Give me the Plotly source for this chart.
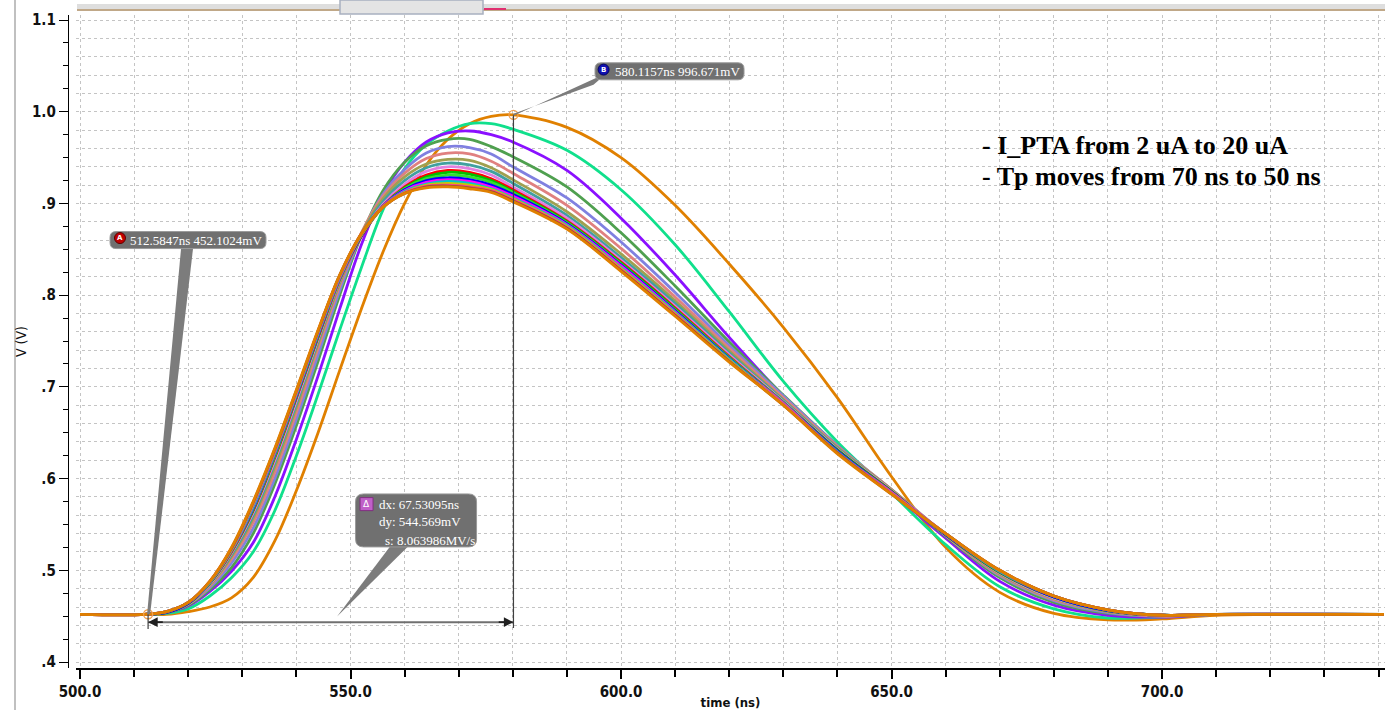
import plotly.graph_objects as go

# ---------------- data ----------------
T_NS = [500, 512, 516, 520, 524, 528, 532, 536, 540, 544, 548, 552, 556, 560, 564, 568, 572, 576, 580,
        590, 600, 610, 620, 630, 640, 650, 660, 670, 680, 690, 700, 710, 741]

I_PTA_UA = [2, 3, 4, 5, 6, 7, 8, 9, 10, 11, 12, 13, 14, 15, 16, 17, 18, 19, 20]

V_02 = [.452, .452, .452, .455, .460, .470, .492, .532, .587, .650, .718, .785, .847, .900, .942, .970, .987, .995, .9967,
        .983, .950, .898, .834, .765, .688, .602, .525, .476, .453, .446, .447, .451, .452]
V_03 = [.452, .452, .453, .458, .472, .492, .520, .565, .625, .692, .762, .830, .893, .938, .964, .979, .987, .987, .981,
        .958, .915, .855, .782, .706, .640, .584, .528, .482, .458, .448, .449, .452, .452]
V_04 = [.452, .452, .454, .461, .477, .499, .530, .580, .643, .712, .785, .855, .910, .945, .967, .977, .979, .975, .967,
        .936, .884, .822, .754, .690, .633, .585, .535, .488, .462, .451, .449, .452, .452]
V_05 = [.452, .452, .454, .462, .479, .503, .540, .594, .658, .728, .800, .865, .914, .945, .963, .970, .970, .962, .951,
        .918, .868, .810, .749, .691, .636, .587, .537, .492, .465, .453, .450, .452, .452]
V_06 = [.452, .452, .454, .463, .481, .508, .546, .600, .665, .735, .805, .866, .910, .937, .955, .962, .961, .954, .940,
        .906, .858, .803, .745, .690, .636, .588, .538, .494, .467, .454, .450, .452, .452]
V_07 = [.452, .452, .454, .463, .483, .512, .552, .607, .672, .742, .810, .868, .908, .933, .949, .955, .954, .946, .933,
        .898, .851, .798, .742, .688, .635, .588, .538, .495, .468, .455, .450, .452, .452]
V_08 = [.452, .452, .454, .464, .484, .515, .557, .613, .678, .747, .813, .867, .905, .929, .943, .948, .947, .939, .926,
        .891, .845, .794, .739, .686, .634, .588, .539, .496, .469, .455, .451, .452, .452]
V_09 = [.452, .452, .454, .464, .485, .517, .560, .617, .682, .750, .815, .866, .902, .925, .939, .944, .942, .935, .922,
        .887, .841, .791, .737, .685, .633, .587, .539, .497, .470, .456, .451, .452, .452]
V_10 = [.452, .452, .454, .464, .485, .519, .563, .620, .685, .752, .816, .865, .899, .921, .935, .940, .938, .931, .918,
        .884, .838, .788, .735, .684, .632, .587, .539, .497, .470, .456, .451, .452, .452]
V_11 = [.452, .452, .454, .464, .486, .520, .565, .623, .688, .754, .817, .864, .897, .918, .931, .936, .934, .927, .915,
        .881, .836, .786, .733, .683, .631, .586, .539, .498, .471, .456, .451, .452, .452]
V_12 = [.452, .452, .454, .464, .486, .521, .566, .624, .689, .755, .818, .865, .897, .917, .929, .934, .932, .925, .913,
        .880, .835, .785, .732, .683, .631, .586, .539, .498, .471, .456, .451, .452, .452]
V_13 = [.452, .452, .454, .464, .487, .521, .567, .625, .690, .756, .818, .865, .897, .916, .927, .931, .929, .923, .912,
        .879, .834, .784, .732, .683, .630, .585, .539, .499, .471, .456, .451, .452, .452]
V_14 = [.452, .452, .454, .464, .487, .522, .568, .627, .691, .757, .819, .865, .897, .915, .925, .928, .926, .920, .910,
        .878, .833, .783, .731, .682, .630, .585, .539, .499, .471, .456, .451, .452, .452]
V_15 = [.452, .452, .455, .465, .487, .522, .569, .628, .692, .758, .819, .866, .897, .914, .923, .926, .924, .918, .908,
        .877, .832, .782, .730, .682, .629, .585, .540, .499, .472, .457, .451, .452, .452]
V_16 = [.452, .452, .455, .465, .487, .523, .570, .629, .693, .759, .820, .866, .896, .913, .921, .924, .922, .916, .906,
        .876, .830, .781, .730, .681, .629, .584, .540, .499, .472, .457, .451, .452, .452]
V_17 = [.452, .452, .455, .465, .488, .523, .572, .630, .694, .760, .821, .866, .896, .912, .920, .922, .920, .915, .905,
        .875, .829, .780, .729, .681, .628, .584, .540, .500, .472, .457, .451, .452, .452]
V_18 = [.452, .452, .455, .465, .488, .524, .573, .631, .695, .761, .821, .867, .896, .912, .919, .920, .918, .914, .904,
        .874, .828, .779, .728, .681, .628, .584, .540, .500, .472, .457, .451, .452, .452]
V_19 = [.452, .452, .455, .465, .488, .524, .574, .632, .696, .761, .822, .867, .896, .911, .918, .919, .917, .913, .903,
        .873, .827, .778, .728, .680, .628, .583, .540, .500, .472, .457, .451, .452, .452]
V_20 = [.452, .452, .455, .465, .488, .525, .575, .633, .697, .762, .822, .867, .896, .911, .917, .918, .916, .912, .902,
        .872, .826, .777, .727, .680, .627, .583, .540, .500, .472, .457, .451, .452, .452]

SERIES = [V_02, V_03, V_04, V_05, V_06, V_07, V_08, V_09, V_10, V_11,
          V_12, V_13, V_14, V_15, V_16, V_17, V_18, V_19, V_20]

COLORS = ["#E08000", "#10E08C", "#8A10FF", "#4FA04F", "#8080E0", "#E08080", "#A0A050", "#40A0A0", "#E080E0",
          "#FF0000", "#00C000", "#30E030", "#0000FF", "#FF00FF", "#00C8C8", "#C8C800", "#FF4090", "#A0522D",
          "#E08000"]

# cursor markers
A_T, A_V = 512.5847, 0.4521024
B_T, B_V = 580.1157, 0.996671
DX_NS, DY_MV, SLOPE = 67.53095, 544.569, 8.063986

Y_TICKS = [0.4, 0.5, 0.6, 0.7, 0.8, 0.9, 1.0, 1.1]
Y_TICKTEXT = [".4", ".5", ".6", ".7", ".8", ".9", "1.0", "1.1"]
X_TICKS = [500, 550, 600, 650, 700]
X_TICKTEXT = ["500.0", "550.0", "600.0", "650.0", "700.0"]

# ---------------- layout constants ----------------
X_RANGE = [499.26, 741.2]
Y_RANGE = [0.3935, 1.1055]
GRID = "#c4c4c4"
BOX = "#707070"
WEDGE = "#7c7c7c"
LBL_FONT = "Liberation Serif, DejaVu Serif, serif"
AX_FONT = "Liberation Sans Narrow, DejaVu Sans Condensed, Liberation Sans, sans-serif"
W_PLOT = 1317.0
H_PLOT = 653.0

fig = go.Figure()
for vals, col, ia in zip(SERIES, COLORS, I_PTA_UA):
    fig.add_trace(go.Scatter(x=T_NS, y=vals, mode="lines", name=f"{ia} uA",
                             line=dict(color=col, width=2.8, shape="spline", smoothing=1.0),
                             hoverinfo="skip"))

# cursor points (on the overlay axis that carries the fine grid)
fig.add_trace(go.Scatter(x=[A_T, B_T], y=[A_V, B_V], mode="markers", yaxis="y2",
                         marker=dict(symbol="circle-open", size=9, color="#F0A050", line=dict(width=1.3)),
                         hoverinfo="skip"))


def rrect(w, h, r):
    x0, x1, y0, y1 = -w / 2, w / 2, -h / 2, h / 2
    return (f"M {x0 + r},{y0} L {x1 - r},{y0} Q {x1},{y0} {x1},{y0 + r} L {x1},{y1 - r} "
            f"Q {x1},{y1} {x1 - r},{y1} L {x0 + r},{y1} Q {x0},{y1} {x0},{y1 - r} "
            f"L {x0},{y0 + r} Q {x0},{y0} {x0 + r},{y0} Z")


def pix_shape(xa, ya, path, fill, line_color=None, lw=0):
    return dict(type="path", xref="x", yref="y", xsizemode="pixel", ysizemode="pixel",
                xanchor=xa, yanchor=ya, path=path, fillcolor=fill,
                line=dict(color=line_color or fill, width=lw), layer="above")


shapes = []
DIM_V = 0.4435
shapes.append(dict(type="line", xref="x", yref="y", x0=A_T, x1=B_T, y0=DIM_V, y1=DIM_V,
                   line=dict(color="#707070", width=2)))
shapes.append(dict(type="line", xref="x", yref="y", x0=B_T, x1=B_T, y0=B_V, y1=0.437,
                   line=dict(color="#404040", width=1.2)))
shapes.append(dict(type="line", xref="x", yref="y", x0=A_T, x1=A_T, y0=A_V, y1=0.436,
                   line=dict(color="#404040", width=1.2)))

# A label
A_BOX = (519.96, 0.8601)
shapes.append(pix_shape(A_T, A_V, "M -1,0 L 33,366 L 45,366 L 2,0 Z", WEDGE))
shapes.append(pix_shape(A_BOX[0], A_BOX[1], rrect(156, 17, 6), BOX, "#9a9a9a", 1))
shapes.append(dict(type="circle", xref="x", yref="y", xsizemode="pixel", ysizemode="pixel",
                   xanchor=507.39, yanchor=0.8623, x0=-5.5, x1=5.5, y0=-5.5, y1=5.5,
                   fillcolor="#C00000", line=dict(color="#600000", width=1)))
# B label
B_BOX = (608.96, 1.0441)
shapes.append(pix_shape(B_T, B_V, "M 0,1 L 80,30 L 94,42 L 0,-1 Z", WEDGE))
shapes.append(pix_shape(B_BOX[0], B_BOX[1], rrect(149, 17, 6), BOX, "#9a9a9a", 1))
shapes.append(dict(type="circle", xref="x", yref="y", xsizemode="pixel", ysizemode="pixel",
                   xanchor=596.77, yanchor=1.046, x0=-5.5, x1=5.5, y0=-5.5, y1=5.5,
                   fillcolor="#1010B0", line=dict(color="#000060", width=1)))
# delta label
D_BOX = (562.11, 0.5544)
shapes.append(pix_shape(D_BOX[0], D_BOX[1], "M -79,-96 L -26,-26 L -8,-26 Z", WEDGE))
shapes.append(pix_shape(D_BOX[0], D_BOX[1], rrect(121, 53, 8), BOX, "#9a9a9a", 1))
shapes.append(dict(type="rect", xref="x", yref="y", xsizemode="pixel", ysizemode="pixel",
                   xanchor=552.96, yanchor=0.5722, x0=-6.5, x1=6.5, y0=-6.5, y1=6.5,
                   fillcolor="#C060C8", line=dict(color="#803080", width=1)))


# window decoration
def px(x):
    return (x - 68) / W_PLOT


def py(y):
    return (668 - y) / H_PLOT


shapes.append(dict(type="line", xref="paper", yref="paper", x0=px(15), x1=px(15), y0=py(0), y1=py(710),
                   line=dict(color="#c0c0c0", width=2), layer="below"))
shapes.append(dict(type="rect", xref="paper", yref="paper", x0=px(77), x1=px(1385), y0=py(11), y1=py(4),
                   fillcolor="#dedede", line=dict(width=0)))
shapes.append(dict(type="line", xref="paper", yref="paper", x0=px(77), x1=px(1385), y0=py(10), y1=py(10),
                   line=dict(color="#c0a888", width=2)))
shapes.append(dict(type="rect", xref="paper", yref="paper", x0=px(340), x1=px(483), y0=py(14), y1=py(0),
                   fillcolor="#e4e4e4", line=dict(color="#a8b0c0", width=1.5)))
shapes.append(dict(type="line", xref="paper", yref="paper", x0=px(484), x1=px(506), y0=py(9), y1=py(9),
                   line=dict(color="#e03070", width=2)))

ann = []
ann.append(dict(x=508.87, y=0.8601, xref="x", yref="y", text=f"{A_T:.4f}ns {A_V*1000:.4f}mV",
                showarrow=False, xanchor="left", yanchor="middle",
                font=dict(family=LBL_FONT, size=13, color="white")))
ann.append(dict(x=507.39, y=0.8623, xref="x", yref="y", text="<b>A</b>", showarrow=False,
                font=dict(family="DejaVu Sans", size=7, color="white")))
ann.append(dict(x=598.52, y=1.0444, xref="x", yref="y", text=f"{B_T:.4f}ns {B_V*1000:.3f}mV",
                showarrow=False, xanchor="left", yanchor="middle",
                font=dict(family=LBL_FONT, size=13, color="white")))
ann.append(dict(x=596.77, y=1.046, xref="x", yref="y", text="<b>B</b>", showarrow=False,
                font=dict(family="DejaVu Sans", size=7, color="white")))
ann.append(dict(x=552.96, y=0.5722, xref="x", yref="y", text="Δ", showarrow=False,
                font=dict(family="DejaVu Sans", size=9, color="white")))
ann.append(dict(x=554.9, y=0.5722, xref="x", yref="y", text=f"dx: {DX_NS:.5f}ns", showarrow=False,
                xanchor="left", yanchor="middle", font=dict(family=LBL_FONT, size=13, color="white")))
ann.append(dict(x=554.9, y=0.5529, xref="x", yref="y", text=f"dy: {DY_MV:.3f}mV", showarrow=False,
                xanchor="left", yanchor="middle", font=dict(family=LBL_FONT, size=13, color="white")))
ann.append(dict(x=556.0, y=0.5329, xref="x", yref="y", text=f"s: {SLOPE:.6f}MV/s", showarrow=False,
                xanchor="left", yanchor="middle", font=dict(family=LBL_FONT, size=13, color="white")))
ann.append(dict(x=A_T, y=DIM_V, ax=A_T + 3, ay=DIM_V, xref="x", yref="y", axref="x", ayref="y",
                text="", showarrow=True, arrowhead=2, arrowsize=1.2, arrowwidth=1.6, arrowcolor="#202020",
                standoff=0))
ann.append(dict(x=B_T, y=DIM_V, ax=B_T - 3, ay=DIM_V, xref="x", yref="y", axref="x", ayref="y",
                text="", showarrow=True, arrowhead=2, arrowsize=1.2, arrowwidth=1.6, arrowcolor="#202020",
                standoff=0))
ann.append(dict(x=666.36, y=0.9637, xref="x", yref="y", text="<b>- I_PTA from 2 uA to 20 uA</b>",
                showarrow=False, xanchor="left", yanchor="middle",
                font=dict(family="Liberation Serif, serif", size=26, color="black")))
ann.append(dict(x=666.36, y=0.9299, xref="x", yref="y", text="<b>- Tp moves from 70 ns to 50 ns</b>",
                showarrow=False, xanchor="left", yanchor="middle",
                font=dict(family="Liberation Serif, serif", size=26, color="black")))

fig.update_layout(
    width=1392, height=710,
    margin=dict(l=68, r=7, t=15, b=42, autoexpand=False),
    paper_bgcolor="white", plot_bgcolor="white",
    showlegend=False,
    shapes=shapes,
    annotations=ann,
    xaxis=dict(domain=[8 / W_PLOT, 1], range=X_RANGE, anchor="y2", automargin=False,
               tickvals=X_TICKS, ticktext=X_TICKTEXT, ticks="outside", ticklen=9, tickwidth=1.5,
               tickcolor="black", showline=True, linewidth=2, linecolor="black",
               showgrid=True, gridcolor=GRID, griddash="dot", gridwidth=1, zeroline=False,
               minor=dict(dtick=10, tick0=500, ticks="outside", ticklen=7, tickwidth=1.5, tickcolor="black",
                          showgrid=True, gridcolor=GRID, griddash="dot", gridwidth=1),
               tickfont=dict(family=AX_FONT, size=15, color="#111", weight="bold"),
               title=dict(text="<b>time (ns)</b>", standoff=2,
                          font=dict(family=AX_FONT, size=13, color="#111"))),
    yaxis=dict(domain=[0, 1], range=Y_RANGE, anchor="free", position=0, side="left", automargin=False,
               tickvals=Y_TICKS, ticktext=Y_TICKTEXT, ticks="outside", ticklen=9, tickwidth=1.3,
               tickcolor="black", showline=True, linewidth=1.3, linecolor="black",
               showgrid=False, zeroline=False,
               minor=dict(dtick=0.025, tick0=0.4, ticks="outside", ticklen=5, tickwidth=1.3,
                          tickcolor="black", showgrid=False),
               tickfont=dict(family=AX_FONT, size=15, color="#111", weight="bold"),
               title=dict(text="V (V)", standoff=1, font=dict(family=AX_FONT, size=14, color="#111"))),
    yaxis2=dict(overlaying="y", anchor="x", side="right", range=Y_RANGE, automargin=False,
                showticklabels=False, ticks="", showline=False, zeroline=False,
                showgrid=True, dtick=0.02, tick0=0.4, gridcolor=GRID, griddash="dot", gridwidth=1),
)

# remove the browser's default 8px page margin so the figure sits at the window origin
fig.write_html("out.html", config={"displayModeBar": False},
               post_script="document.body.style.margin='0px';")
